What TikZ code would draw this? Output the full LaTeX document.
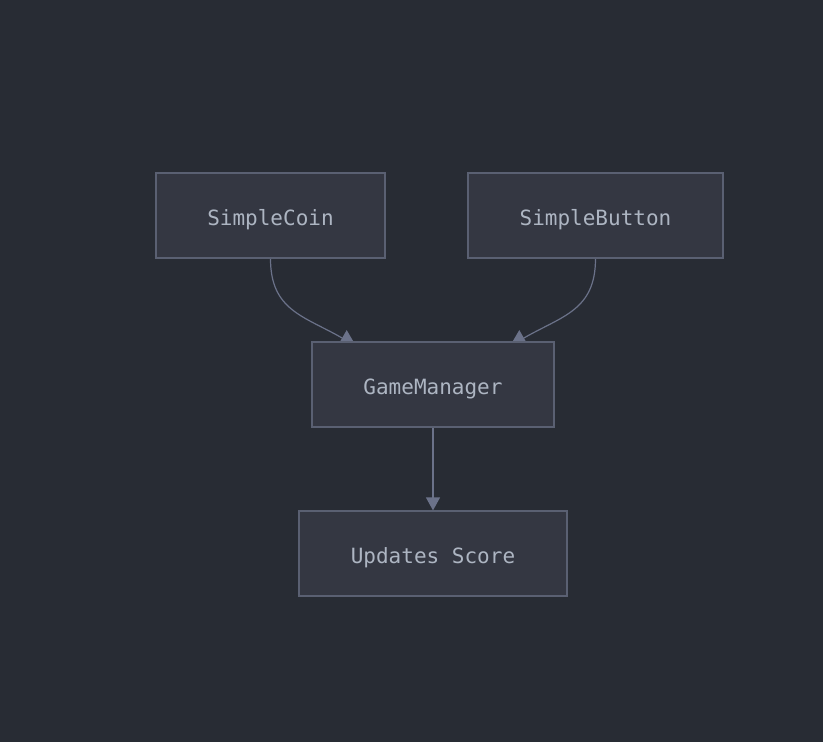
\documentclass[tikz,border=0pt]{standalone}
\usepackage{fontspec}
\setmonofont{DejaVu Sans Mono}
\usepackage{tikz}
\usetikzlibrary{arrows.meta,backgrounds}
\definecolor{bgdark}{HTML}{282C34}
\definecolor{boxfill}{HTML}{343742}
\definecolor{boxline}{HTML}{5A6072}
\definecolor{boxtext}{HTML}{ADB5C2}
\definecolor{edgecol}{HTML}{6B7289}
\tikzstyle{box}=[rectangle,draw=boxline,fill=boxfill,line width=1.2pt,minimum height=85pt,inner sep=0pt,text height=21pt,text depth=2pt,text=boxtext,font=\ttfamily\fontsize{21}{25}\selectfont]
\tikzstyle{edge}=[draw=edgecol,line width=1.2pt]
\tikzstyle{bigtip}=[-{Triangle[length=16pt,width=18pt]}]
\tikzstyle{smalltip}=[-{Triangle[length=13pt,width=14pt]}]

\begin{document}
\begin{tikzpicture}[x=1pt,y=-1pt]

    \useasboundingbox (0,0) rectangle (823,742);

    \foreach \pos/ \name / \boxw / \label in {{(270.5,215.5)/coin/229/SimpleCoin},{(595.5,215.5)/button/255/SimpleButton},{(433,384.5)/gm/242/GameManager},{(433,553.5)/score/268/Updates Score}}
        \node[box,minimum width=\boxw pt] (\name) at \pos {\label};

    % arrow ends, partly under the GameManager box
    \coordinate (gmleft) at (356,346);
    \coordinate (gmright) at (510,346);

    \begin{scope}[on background layer]
        \fill[bgdark] (0,0) rectangle (823,742);
        \draw[edge,bigtip] (coin.south) .. controls +(0,52) and (304,316) .. (gmleft);
        \draw[edge,bigtip] (button.south) .. controls +(0,52) and (562,316) .. (gmright);
        \draw[edge,smalltip] (gm.south) -- (score.north);
    \end{scope}

\end{tikzpicture}
\end{document}
